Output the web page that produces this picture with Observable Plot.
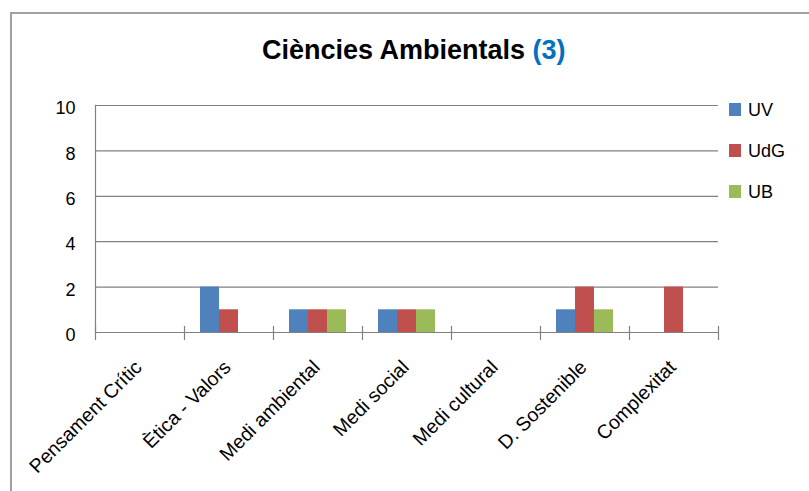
<!DOCTYPE html>
<html><head><meta charset="utf-8">
<script src="https://cdn.jsdelivr.net/npm/d3@7"></script>
<script src="https://cdn.jsdelivr.net/npm/@observablehq/plot@0.6"></script>
<style>
html,body{margin:0;padding:0;background:#fff;overflow:hidden;}
#wrap{position:relative;width:809px;height:491px;overflow:hidden;font-family:"Liberation Sans",Arial,sans-serif;background:#fff;}
#border{position:absolute;left:10px;top:12px;width:1000px;height:1000px;border-left:2px solid #a0a0a0;border-top:2px solid #a0a0a0;}
#title{position:absolute;left:262px;top:37px;font-size:27px;line-height:27px;font-weight:bold;white-space:nowrap;color:#000;}
#title span{color:#0070C0;}
#chart{position:absolute;left:0;top:0;}
.leg{position:absolute;left:729px;width:80px;height:14px;}
.leg .sw{position:absolute;left:0;top:0;width:12px;height:13px;}
.leg .tx{position:absolute;left:19px;top:1px;font-size:18px;line-height:13px;color:#000;white-space:nowrap;}
</style>
</head><body>
<div id="wrap">
  <div id="border"></div>
  <div id="chart"></div>
  <div id="title"></div>
  <div id="legend"></div>
</div>
<script>
const titleMain = "Ciències Ambientals";
const titleNote = "(3)";
const categories = ["Pensament Crític","Ètica - Valors","Medi ambiental","Medi social","Medi cultural","D. Sostenible","Complexitat"];
const series = ["UV","UdG","UB"];
const uv  = [0,2,1,1,0,1,0];
const udg = [0,1,1,1,0,2,2];
const ub  = [0,0,1,1,0,1,0];
const colors = ["#4F81BD","#C0504D","#9BBB59"];
const yTicks = [0,2,4,6,8,10];

const values = [uv, udg, ub];
const data = [];
categories.forEach((c, i) => {
  series.forEach((s, j) => data.push({category: c, series: s, value: values[j][i]}));
});

const W = 809, H = 491, mT = 105, mB = 159, mL = 94, mR = 90;
const innerH = H - mT - mB;
const gray = "#808080";

const chart = Plot.plot({
  width: W, height: H,
  marginLeft: mL, marginRight: mR, marginTop: mT, marginBottom: mB,
  style: {fontFamily: "Liberation Sans, Arial, sans-serif", fontSize: "18px", color: "#000", background: "transparent"},
  fx: {domain: categories, paddingInner: 0, paddingOuter: 0, axis: null, label: null},
  x: {domain: series, paddingInner: 0, paddingOuter: 0.75, axis: null},
  y: {domain: [0, 10], axis: null, label: null},
  color: {domain: series, range: colors},
  marks: [
    Plot.gridY(yTicks, {stroke: gray, strokeOpacity: 1, strokeWidth: 1.2}),
    Plot.frame({anchor: "left", facetAnchor: "left", stroke: gray, strokeOpacity: 1, strokeWidth: 1.2}),
    Plot.frame({anchor: "left", insetTop: innerH - 6, insetBottom: -7, stroke: gray, strokeOpacity: 1, strokeWidth: 1.2}),
    Plot.frame({anchor: "right", facetAnchor: "right", insetTop: innerH - 6, insetBottom: -7, stroke: gray, strokeOpacity: 1, strokeWidth: 1.2}),
    Plot.barY(data.filter(d => d.value > 0), {fx: "category", x: "series", y: "value", fill: "series"}),
    Plot.axisY(yTicks, {anchor: "left", tickSize: 0, tickPadding: 20, fontSize: 18, dy: 3, label: null}),
    Plot.text(categories, {fx: d => d, text: d => d, frameAnchor: "bottom", rotate: -45, textAnchor: "end", lineAnchor: "bottom", dy: 36, dx: 3, fontSize: 19.5, fill: "#000"})
  ]
});
document.getElementById("chart").appendChild(chart);

const t = document.getElementById("title");
t.appendChild(document.createTextNode(titleMain + " "));
const sp = document.createElement("span");
sp.textContent = titleNote;
t.appendChild(sp);

const leg = document.getElementById("legend");
series.forEach((s, i) => {
  const d = document.createElement("div");
  d.className = "leg";
  d.style.top = (103 + i * 40.8) + "px";
  const sw = document.createElement("div");
  sw.className = "sw";
  sw.style.background = colors[i];
  const tx = document.createElement("div");
  tx.className = "tx";
  tx.textContent = s;
  d.appendChild(sw); d.appendChild(tx);
  leg.appendChild(d);
});
</script>
</body></html>
